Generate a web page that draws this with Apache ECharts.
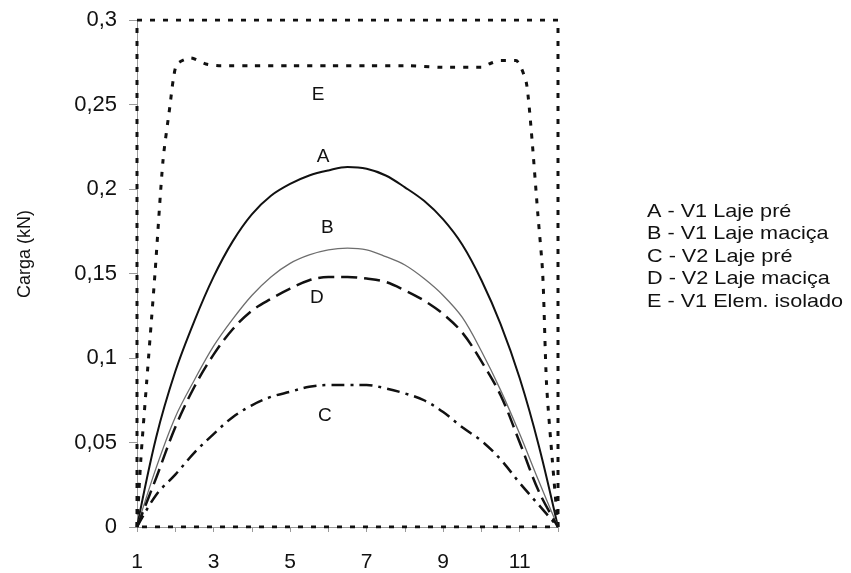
<!DOCTYPE html>
<html>
<head>
<meta charset="utf-8">
<script src="https://cdn.jsdelivr.net/npm/echarts@6/dist/echarts.min.js"></script>
<style>html,body{margin:0;padding:0;background:#fff;}#c{width:851px;height:573px;}</style>
</head>
<body>
<div id="c"></div>
<script>
// ---- data ----
var xGrid = [1,1.5,2,2.5,3,3.5,4,4.5,5,5.5,6,6.5,7,7.5,8,8.5,9,9.5,10,10.5,11,11.5,12];
var serA = [0,0.053,0.092,0.122,0.148,0.169,0.185,0.196,0.203,0.208,0.211,0.213,0.212,0.208,0.201,0.193,0.182,0.167,0.146,0.12,0.088,0.048,0];
var serB = [0,0.035,0.065,0.087,0.107,0.123,0.137,0.148,0.156,0.161,0.164,0.165,0.164,0.160,0.155,0.147,0.137,0.124,0.104,0.081,0.055,0.027,0];
var serC = [0,0.019,0.031,0.044,0.055,0.065,0.072,0.077,0.080,0.083,0.084,0.084,0.084,0.082,0.079,0.075,0.068,0.059,0.051,0.040,0.026,0.013,0];
var serD = [0,0.029,0.059,0.083,0.102,0.117,0.128,0.135,0.141,0.146,0.148,0.148,0.147,0.145,0.140,0.134,0.126,0.115,0.098,0.078,0.050,0.021,0];
var eX = [1,1.1,1.25,1.47,1.68,1.86,1.95,2.05,2.4,2.8,3.2,4,5,6,7,8,9,10,10.2,10.5,10.9,11.05,11.18,11.3,11.47,11.6,11.7,11.85,12];
var eY = [0,0.04,0.085,0.15,0.217,0.249,0.265,0.274,0.2775,0.274,0.273,0.273,0.273,0.273,0.273,0.273,0.272,0.272,0.274,0.276,0.276,0.271,0.262,0.235,0.186,0.15,0.085,0.04,0];
var frameX = [1,1,12,12,1];
var frameY = [0,0.3,0.3,0,0];
var curveLetters = ['A','B','C','D','E'];
var letterX = [5.86,5.97,5.91,5.70,5.73];
var letterY = [0.219,0.177,0.066,0.1355,0.2556];
var legendLabels = ['A - V1 Laje pré','B - V1 Laje maciça','C - V2 Laje pré','D - V2 Laje maciça','E - V1 Elem. isolado'];
var yTitle = 'Carga (kN)';
var xMin = 1, xMax = 12, yMin = 0, yMax = 0.3;

function pairs(xs, ys){ return xs.map(function(x,i){ return [x, ys[i]]; }); }

var FONT = '"Liberation Sans", Arial, sans-serif';
var chart = echarts.init(document.getElementById('c'), null, {renderer:'canvas'});

function letterMark(i){
  return {
    symbol: 'circle',
    symbolSize: 1,
    silent: true,
    itemStyle: {color:'rgba(0,0,0,0)'},
    label: {show:true, formatter: curveLetters[i], color:'#111', fontSize:19, fontFamily:FONT, position:'inside'},
    data: [{coord:[letterX[i], letterY[i]], value: curveLetters[i]}]
  };
}

var option = {
  backgroundColor: '#fff',
  animation: false,
  grid: {left:137, right:293, top:20, bottom:46, containLabel:false},
  xAxis: {
    type:'value', min:xMin, max:xMax, interval:1,
    axisLine:{show:true, lineStyle:{color:'#9a9a9a', width:1}},
    axisTick:{show:true, length:5, lineStyle:{color:'#9a9a9a'}},
    splitLine:{show:false},
    axisLabel:{
      color:'#111', fontSize:21, fontFamily:FONT, margin:25,
      formatter:function(v){ return (Math.round(v) % 2 === 1) ? String(Math.round(v)) : ''; }
    }
  },
  yAxis: {
    type:'value', min:yMin, max:yMax, interval:0.05,
    axisLine:{show:true, lineStyle:{color:'#9a9a9a', width:1}},
    axisTick:{show:true, length:8, lineStyle:{color:'#9a9a9a'}},
    splitLine:{show:false},
    axisLabel:{
      color:'#111', fontSize:22, fontFamily:FONT, margin:20,
      formatter:function(v){ return String(+v.toFixed(2)).replace('.', ','); }
    }
  },
  series: [
    {name:'frame', type:'line', data:pairs(frameX, frameY), symbol:'none', smooth:false,
     lineStyle:{color:'#111', width:3, type:[5,8]}, z:1},
    {name:legendLabels[4], type:'line', data:pairs(eX, eY), symbol:'none', smooth:0.25,
     lineStyle:{color:'#111', width:3, type:[5,8]}, markPoint: letterMark(4), z:2},
    {name:legendLabels[0], type:'line', data:pairs(xGrid, serA), symbol:'none', smooth:0.35,
     lineStyle:{color:'#111', width:2}, markPoint: letterMark(0), z:3},
    {name:legendLabels[1], type:'line', data:pairs(xGrid, serB), symbol:'none', smooth:0.35,
     lineStyle:{color:'#6e6e6e', width:1.3}, markPoint: letterMark(1), z:3},
    {name:legendLabels[2], type:'line', data:pairs(xGrid, serC), symbol:'none', smooth:0.35,
     lineStyle:{color:'#111', width:2.5, type:[13,6,3,6]}, markPoint: letterMark(2), z:3},
    {name:legendLabels[3], type:'line', data:pairs(xGrid, serD), symbol:'none', smooth:0.35,
     lineStyle:{color:'#111', width:2.5, type:[16,7]}, markPoint: letterMark(3), z:3}
  ],
  graphic: [{
    type:'text', x:25, y:254, rotation:Math.PI/2, silent:true,
    style:{text:yTitle, fill:'#111', fontSize:18, fontFamily:FONT, align:'center', verticalAlign:'middle'}
  }].concat(legendLabels.map(function(t, i){
    return {type:'text', x:647, y:212 + i*22.4, scaleX:1.17, silent:true,
      style:{text:t, fill:'#111', fontSize:18.5, fontFamily:FONT, verticalAlign:'middle'}};
  }))
};
chart.setOption(option);
</script>
</body>
</html>
